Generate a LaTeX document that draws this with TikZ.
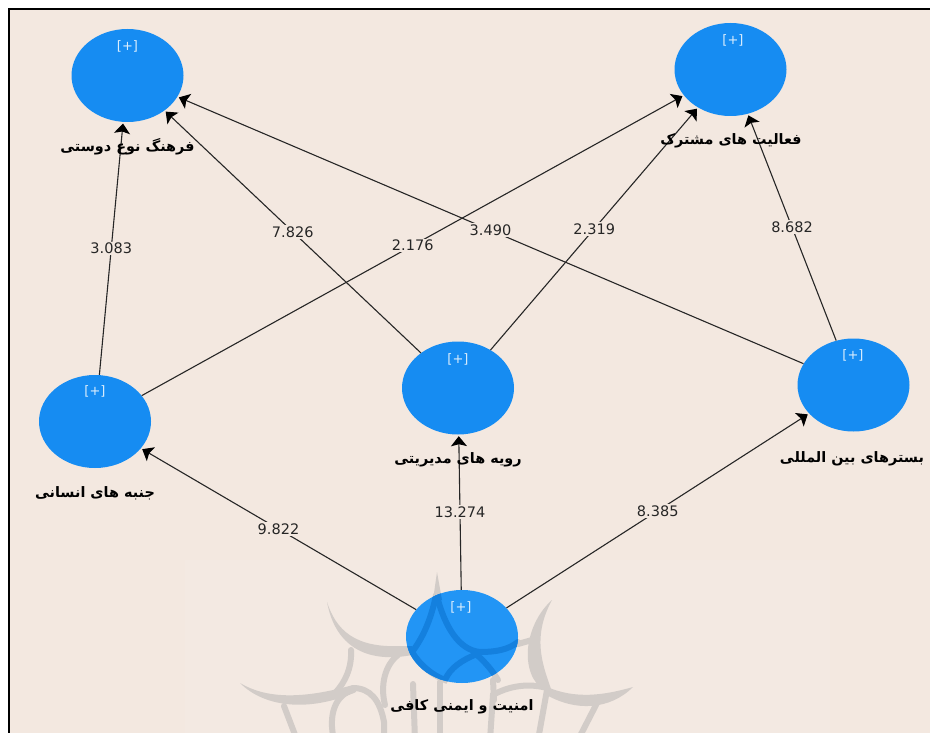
\documentclass[tikz,border=0pt]{standalone}
\usepackage{fontspec}
\setmainfont{DejaVu Sans}
\newfontfamily\arabicfont[Script=Arabic]{DejaVu Sans}
\TeXXeTstate=1
\usetikzlibrary{shapes.geometric,arrows.meta}
\definecolor{pagebg}{HTML}{F3E8E0}
\definecolor{pagelight}{HTML}{F3E9E2}
\definecolor{lvblue}{HTML}{168CF2}
\definecolor{lvlight}{HTML}{2295F5}
\definecolor{wmark}{HTML}{D2CCC8}
\definecolor{wmblue}{HTML}{1480DE}
\newcommand{\wmshapes}[1]{%
  \begin{scope}[draw=#1,fill=#1,line width=6pt,line cap=round]
  \fill (327,602) .. controls (336,630) and (355,648) .. (400,646) -- (412,646) -- (412,655) .. controls (365,664) and (335,645) .. (327,602) -- cycle;
  \fill (240,683) .. controls (265,698) and (300,700) .. (353,685) -- (356,692) .. controls (310,712) and (265,708) .. (240,683) -- cycle;
  \fill (552,600) .. controls (535,615) and (526,640) .. (528,660) .. controls (530,680) and (540,690) .. (552,692) .. controls (545,670) and (530,640) .. (552,600) -- cycle;
  \fill (633,687) .. controls (605,695) and (575,700) .. (545,686) -- (545,694) .. controls (575,712) and (610,710) .. (633,687) -- cycle;
  \fill (437,572) -- (433,600) -- (442,600) -- cycle;
  \draw (351,650) .. controls (352,668) and (345,682) .. (336,692);
  \draw (353,690) .. controls (335,695) and (328,715) .. (334,740);
  \draw (353,688) .. controls (370,688) and (380,700) .. (384,722) -- (384,740);
  \draw (398,655) .. controls (385,665) and (380,685) .. (385,705);
  \draw (284,706) -- (297,740);
  \draw (597,703) -- (578,740);
  \draw (547,690) -- (538,740);
  \draw (547,688) .. controls (525,682) and (505,688) .. (493,695) -- (490,740);
  \draw (493,680) -- (494,700);
  \draw (532,640) -- (518,644);
  \draw (436,595) .. controls (432,615) and (425,635) .. (412,652) .. controls (420,665) and (432,675) .. (445,680) .. controls (450,668) and (462,660) .. (477,654);
  \draw (438,600) .. controls (445,625) and (458,650) .. (480,652) .. controls (495,652) and (508,650) .. (518,642);
  \draw (477,655) .. controls (485,662) and (492,670) .. (498,680);
  \draw (440,682) -- (440,740);
  \draw (413,684) -- (415,740);
  \end{scope}}
\tikzset{
  lv/.style={ellipse,fill=lvblue,draw=none,minimum width=112pt,minimum height=93pt,inner sep=0pt},
  plus/.style={text=white!85!lvblue,font=\fontsize{13}{13}\selectfont},
  lab/.style={font=\arabicfont\bfseries\fontsize{14.4}{14.4}\selectfont,text=black},
  conn/.style={draw=black!85,line width=1.1pt,-{Stealth[length=10pt,width=16pt,inset=2pt,color=black]},shorten >=1.5pt},
  val/.style={pos=.5,fill=pagebg,inner sep=1.5pt,text=black!85,font=\fontsize{14.5}{14.5}\selectfont}
}
\begin{document}
\begin{tikzpicture}[x=1pt,y=-1pt]
\useasboundingbox (0,0) rectangle (930,733);
\fill[white] (0,0) rectangle (930,733);
\fill[pagebg] (9,9) rectangle (930,733);
\fill[pagelight] (185,560) rectangle (830,733);
\draw[black,line width=2.5pt] (9,733) -- (9,9) -- (930,9);
\wmshapes{wmark}
\node[lv] (tl) at (127.5,75.5) {};
\node[lv] (tr) at (730.5,69.5) {};
\node[lv] (mid) at (458,388) {};
\node[lv] (lf) at (95,421.5) {};
\node[lv] (rt) at (853.5,385) {};
\node[lv,fill=lvlight] (bt) at (462,636.5) {};
\begin{scope}
\clip (462,636.5) ellipse [x radius=56pt,y radius=46.5pt];
\wmshapes{wmblue}
\end{scope}
\foreach \n/\xx/\yy in {p1/127.5/46,p2/733/40,p3/458/359,p4/95/391,p5/853/355,p6/461/607}{
  \node[plus] (\n) at (\xx,\yy) {[+]};
}
\draw[conn] (lf) -- node[val] (v1) {3.083} (tl);
\draw[conn] (mid) -- node[val] (v2) {7.826} (tl);
\draw[conn] (rt) -- node[val] (v3) {3.490} (tl);
\draw[conn] (lf) -- node[val] (v4) {2.176} (tr);
\draw[conn] (mid) -- node[val] (v5) {2.319} (tr);
\draw[conn] (rt) -- node[val] (v6) {8.682} (tr);
\draw[conn] (bt) -- node[val] (v7) {9.822} (lf);
\draw[conn] (bt) -- node[val] (v8) {13.274} (mid);
\draw[conn] (bt) -- node[val] (v9) {8.385} (rt);
\node[lab] (n1) at (127.5,147) {\beginR فرهنگ نوع دوستی\endR};
\node[lab] (n2) at (731,141) {\beginR فعالیت های مشترک\endR};
\node[lab] (n3) at (458,460) {\beginR رویه های مدیریتی\endR};
\node[lab] (n4) at (95,493) {\beginR جنبه های انسانی\endR};
\node[lab] (n5) at (852,459) {\beginR بسترهای بین المللی\endR};
\node[lab] (n6) at (462,707) {\beginR امنیت و ایمنی کافی\endR};
\end{tikzpicture}
\end{document}
